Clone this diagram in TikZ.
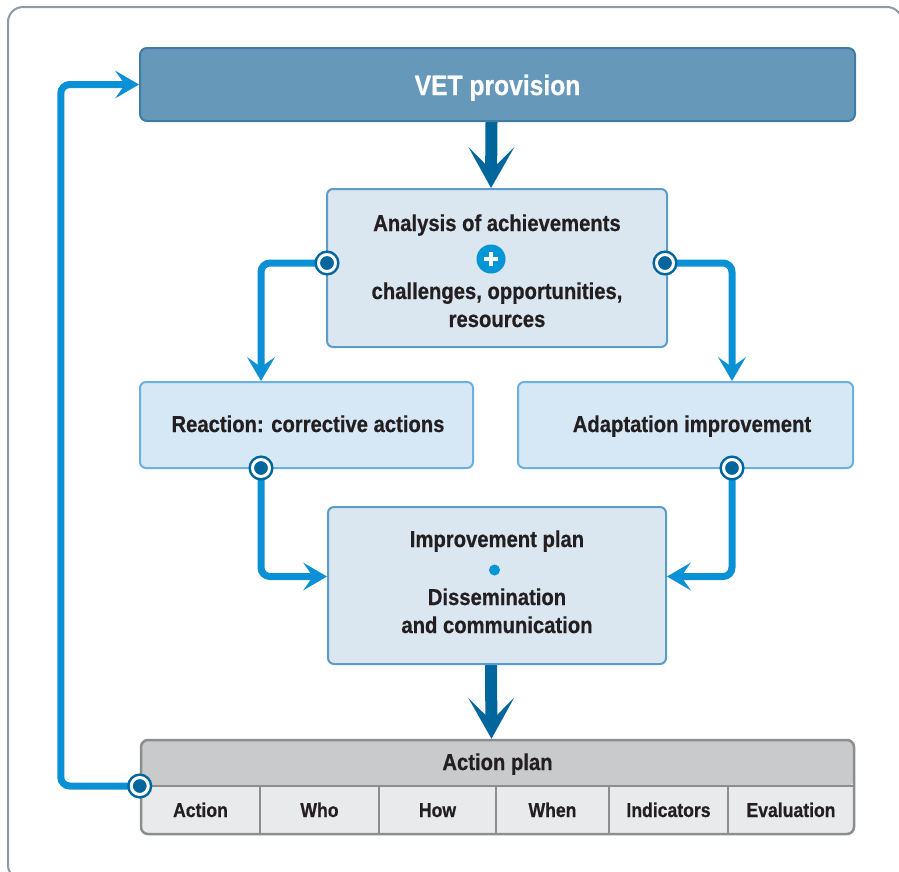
\documentclass[tikz,border=0pt]{standalone}
\usepackage{fontspec}
\setmainfont{Liberation Sans}[FakeStretch=0.88,BoldFeatures={FakeBold=0.6}]
\usetikzlibrary{arrows.meta,backgrounds}

\definecolor{vetfill}{HTML}{6698B9}
\definecolor{vetline}{HTML}{3F7CA5}
\definecolor{darkblue}{HTML}{00669B}
\definecolor{linkblue}{HTML}{0A90D5}
\definecolor{plusblue}{HTML}{0095D7}
\definecolor{anafill}{HTML}{DAE6F0}
\definecolor{analine}{HTML}{5C9CCA}
\definecolor{reacfill}{HTML}{D6E8F6}
\definecolor{reacline}{HTML}{6AB1E2}
\definecolor{headgray}{HTML}{C9CACC}
\definecolor{rowgray}{HTML}{E9EAEC}
\definecolor{tableline}{HTML}{8C8D8F}
\definecolor{framegray}{HTML}{8D9BA8}
\definecolor{textdark}{HTML}{231F20}

\begin{document}
\begin{tikzpicture}[x=1pt,y=-1pt,
    boxtext/.style={text=textdark,font=\fontsize{23}{28}\selectfont\bfseries,inner sep=0,anchor=base},
    celltext/.style={boxtext,font=\fontsize{20}{24}\selectfont\bfseries},
    analysisbox/.style={draw=analine,fill=anafill,line width=2pt,rounded corners=6pt,inner sep=0},
    reactbox/.style={draw=reacline,fill=reacfill,line width=2pt,rounded corners=6pt,inner sep=0},
    port/.style={circle,inner sep=0,minimum size=17pt,fill=darkblue,draw=darkblue,line width=2.5pt,double=white,double distance=3pt},
    link/.style={linkblue,line width=7pt,rounded corners=9pt,-{Stealth[length=24pt,width=28pt,inset=10pt,line width=0pt]}},
    bigarrow/.style={darkblue,line width=12pt,-{Stealth[length=41pt,width=46pt,inset=23pt,line width=0pt]}},
  ]
  \useasboundingbox (0,0) rectangle (899,871);
  %% frame
  \draw[framegray,line width=2pt,rounded corners=15pt] (8,7) rectangle (902,880);

  %% boxes
  \node[draw=vetline,fill=vetfill,line width=2pt,rounded corners=7pt,
    minimum width=715pt,minimum height=73pt] (vet) at (497.5,84.5) {};
  \node[analysisbox,minimum width=340pt,minimum height=158pt] (ana) at (497,268) {};
  \node[reactbox,minimum width=333pt,minimum height=86pt] (reac) at (306.5,425) {};
  \node[reactbox,minimum width=335pt,minimum height=86pt] (adap) at (685.5,425) {};
  \node[analysisbox,minimum width=338pt,minimum height=157pt] (impr) at (497,585.5) {};
  \node[draw=tableline,fill=rowgray,line width=2.5pt,rounded corners=7pt,
    minimum width=713pt,minimum height=94pt,
    path picture={\fill[headgray] (path picture bounding box.north west)
      rectangle ([yshift=-46pt]path picture bounding box.north east);}] (plan) at (497.5,787) {};

  %% texts
  \node[boxtext,text=white,font=\fontsize{28}{32}\selectfont\bfseries] (vettxt) at (497.5,95) {VET provision};
  \node[boxtext] (ana1) at (497,231) {Analysis of achievements};
  \node[circle,fill=plusblue,inner sep=0,minimum size=29pt,
    path picture={\draw[white,line width=3.5pt]
      ([xshift=-7pt]path picture bounding box.center) -- ([xshift=7pt]path picture bounding box.center)
      ([yshift=-7pt]path picture bounding box.center) -- ([yshift=7pt]path picture bounding box.center);}] (plus) at (491,259) {};
  \node[boxtext] (ana2) at (497,299) {challenges, opportunities,};
  \node[boxtext] (ana3) at (497,327) {resources};
  \node[boxtext] (reactxt) at (308,432) {Reaction: corrective actions};
  \node[boxtext] (adaptxt) at (692,432) {Adaptation improvement};
  \node[boxtext] (impr1) at (497,547) {Improvement plan};
  \node[circle,fill=plusblue,inner sep=0,minimum size=11pt] (dot) at (494.5,570) {};
  \node[boxtext] (impr2) at (497,605) {Dissemination};
  \node[boxtext] (impr3) at (497,633) {and communication};

  %% action plan table
  \draw[tableline,line width=2.5pt] (plan.west |- 0,786) -- (plan.east |- 0,786);
  \foreach \dx in {260,379,496,609,728}
    \draw[tableline,line width=2pt] (\dx,786) -- (\dx,834);
  \node[boxtext] (plantxt) at (497.5,770) {Action plan};
  \foreach \lbl/\cx [count=\i] in {Action/200.5,Who/319.5,How/437.5,When/552.5,Indicators/668.5,Evaluation/791}
    \node[celltext] (cell\i) at (\cx,817) {\lbl};

  %% ports
  \node[port] (pal) at (327,263) {};
  \node[port] (par) at (665,263) {};
  \node[port] (prl) at (261,468) {};
  \node[port] (prr) at (732,468) {};
  \node[port] (pplan) at (plan.west |- 0,786) {};

  %% connectors
  \begin{scope}[on background layer]
    \draw[bigarrow] ([xshift=-6pt]vet.south) -- ([xshift=-6pt]ana.north);
    \draw[bigarrow] ([xshift=-6pt]impr.south) -- ([xshift=-6pt]plan.north);
    \draw[link] (pal.center) -| (reac.north -| prl);
    \draw[link] (par.center) -| (adap.north -| prr);
    \draw[link] (prl.center) |- ([yshift=9pt]impr.west);
    \draw[link] (prr.center) |- ([yshift=9pt]impr.east);
    \draw[link] (pplan.center) -- ++(-79,0) |- (vet.west);
  \end{scope}
\end{tikzpicture}
\end{document}
